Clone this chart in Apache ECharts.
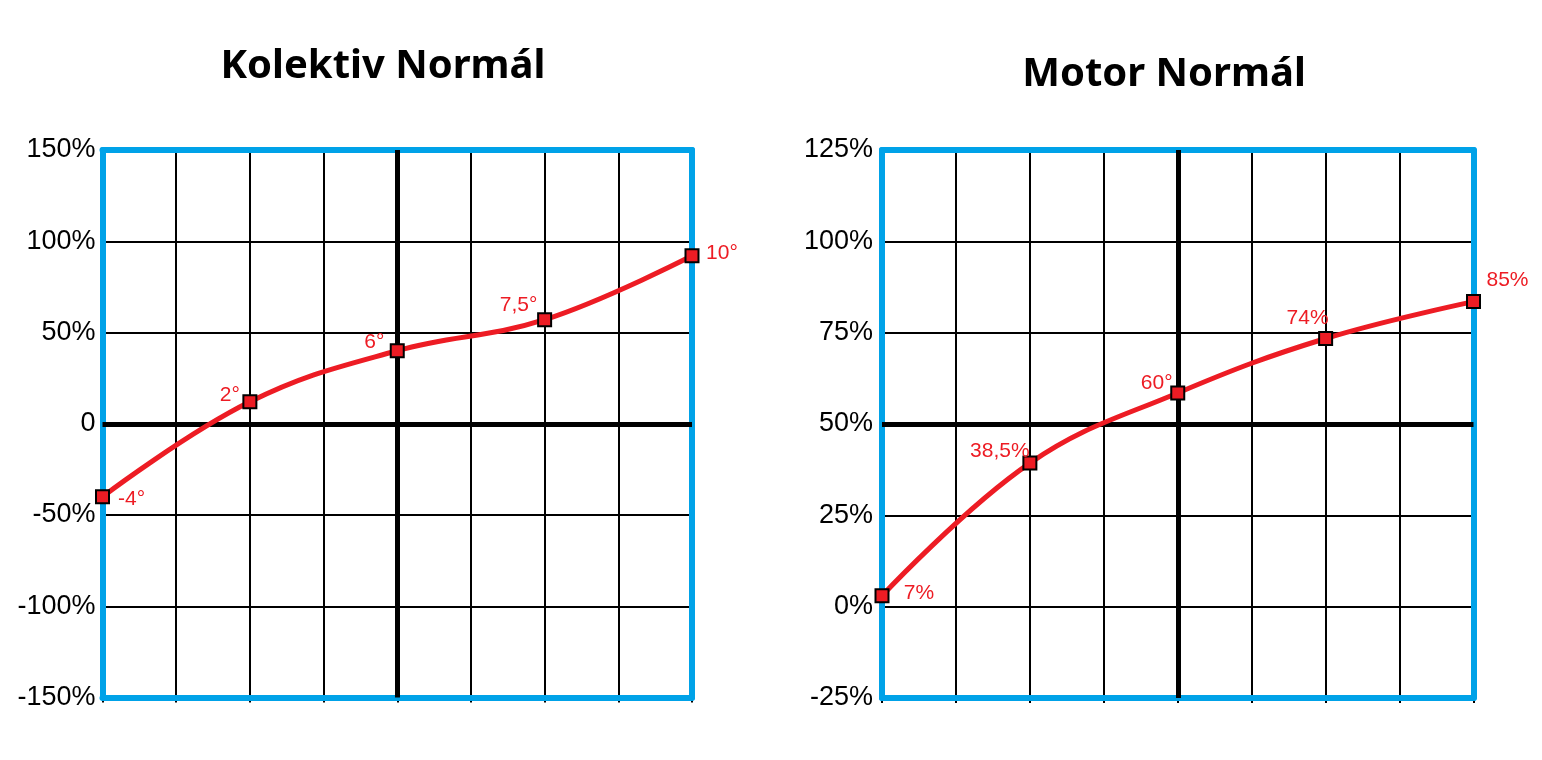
<!DOCTYPE html>
<html><head><meta charset="utf-8">
<script src="https://cdn.jsdelivr.net/npm/echarts@6/dist/echarts.min.js"></script>
<style>html,body{margin:0;padding:0;background:#fff}#c{width:1542px;height:760px}</style>
</head><body><div id="c"></div>
<script>
// ---- data ----
const xPositions = [0, 2, 4, 6, 8];
const kolektivValues = [-40, 12, 40, 57, 92];
const kolektivLabels = ['-4°', '2°', '6°', '7,5°', '10°'];
const kolektivTicks = ['-150%', '-100%', '-50%', '0', '50%', '100%', '150%'];
const motorValues = [3, 39.3, 58.5, 73.4, 83.5];
const motorLabels = ['7%', '38,5%', '60°', '74%', '85%'];
const motorTicks = ['-25%', '0%', '25%', '50%', '75%', '100%', '125%'];
const titles = ['Kolektiv Normál', 'Motor Normál'];

// ---- layout / style ----
const kolektivLabelOffsets = [[29, 2], [-20, -7], [-23, -9], [-26, -15], [30, -3]];
const motorLabelOffsets = [[37, -3], [-30, -12], [-21, -10], [-18, -20], [34, -21]];
const RED = '#ED1C24', BLUE = '#00A2E8';
const grids = [
  { left: 102.5, top: 150, width: 589.5, height: 547.5 },
  { left: 882, top: 150, width: 591.5, height: 548 }
];

const chartDefs = [
  { values: kolektivValues, labels: kolektivLabels, ticks: kolektivTicks, offsets: kolektivLabelOffsets,
    yMin: -150, yMax: 150, yInt: 50, thickY: 0, labelMargin: 7 },
  { values: motorValues, labels: motorLabels, ticks: motorTicks, offsets: motorLabelOffsets,
    yMin: -25, yMax: 125, yInt: 25, thickY: 50, labelMargin: 9 }
];

const xAxis = [], yAxis = [], series = [];
chartDefs.forEach((d, g) => {
  const xBase = { gridIndex: g, type: 'value', min: 0, max: 8, interval: 1,
    axisLabel: { show: false }, splitLine: { show: false }, axisTick: { show: false },
    axisLine: { show: false, onZero: false } };
  // grid lines + ticks
  xAxis.push(Object.assign({}, xBase, { position: 'bottom', z: 0,
    splitLine: { show: true, showMinLine: false, showMaxLine: false, lineStyle: { color: '#000', width: 2 } },
    axisTick: { show: true, length: 5, lineStyle: { color: '#000', width: 2 } } }));
  // blue bottom border
  xAxis.push(Object.assign({}, xBase, { position: 'bottom', z: 3,
    axisLine: { show: true, onZero: false, lineStyle: { color: BLUE, width: 6 } } }));
  // blue top border
  xAxis.push(Object.assign({}, xBase, { position: 'top', z: 3,
    axisLine: { show: true, onZero: false, lineStyle: { color: BLUE, width: 6 } } }));

  const yBase = { gridIndex: g, type: 'value', min: d.yMin, max: d.yMax, interval: d.yInt,
    axisLabel: { show: false }, splitLine: { show: false }, axisTick: { show: false },
    axisLine: { show: false, onZero: false } };
  yAxis.push(Object.assign({}, yBase, { position: 'left', z: 0,
    splitLine: { show: true, showMinLine: false, showMaxLine: false, lineStyle: { color: '#000', width: 2 } },
    axisLabel: { show: true, margin: d.labelMargin, color: '#000', fontFamily: 'Liberation Sans', fontSize: 27,
      formatter: (v, i) => d.ticks[Math.round((v - d.yMin) / d.yInt)] } }));
  yAxis.push(Object.assign({}, yBase, { position: 'left', z: 3,
    axisLine: { show: true, onZero: false, lineStyle: { color: BLUE, width: 6 } } }));
  yAxis.push(Object.assign({}, yBase, { position: 'right', z: 3,
    axisLine: { show: true, onZero: false, lineStyle: { color: BLUE, width: 6 } } }));

  const pts = xPositions.map((x, i) => [x, d.values[i]]);
  // thick axes lines (under the blue border)
  series.push({ type: 'line', xAxisIndex: g * 3, yAxisIndex: g * 3, z: 1, silent: true,
    data: pts, showSymbol: false, lineStyle: { opacity: 0, width: 0 },
    markLine: { silent: true, symbol: 'none', label: { show: false },
      lineStyle: { color: '#000', width: 5, type: 'solid' },
      data: [{ xAxis: 4 }, { yAxis: d.thickY }] } });
  // curve
  series.push({ type: 'line', xAxisIndex: g * 3, yAxisIndex: g * 3, z: 5, smooth: 0.4,
    symbol: 'rect', symbolSize: 13,
    itemStyle: { color: RED, borderColor: '#000', borderWidth: 2 },
    lineStyle: { color: RED, width: 5 },
    data: pts.map((p, i) => ({ value: p,
      label: { show: true, position: 'inside', offset: d.offsets[i], formatter: d.labels[i],
        color: RED, fontFamily: 'Liberation Sans', fontSize: 21 } })) });
});

const chart = echarts.init(document.getElementById('c'));
chart.setOption({
  animation: false,
  grid: grids,
  xAxis, yAxis, series,
  graphic: [
    { type: 'text', x: 383, y: 67, style: { text: titles[0], font: 'bold 40px "Noto Sans"', fill: '#000', align: 'center', verticalAlign: 'middle' } },
    { type: 'text', x: 1164, y: 75, style: { text: titles[1], font: 'bold 40px "Noto Sans"', fill: '#000', align: 'center', verticalAlign: 'middle' } }
  ]
});
</script></body></html>
